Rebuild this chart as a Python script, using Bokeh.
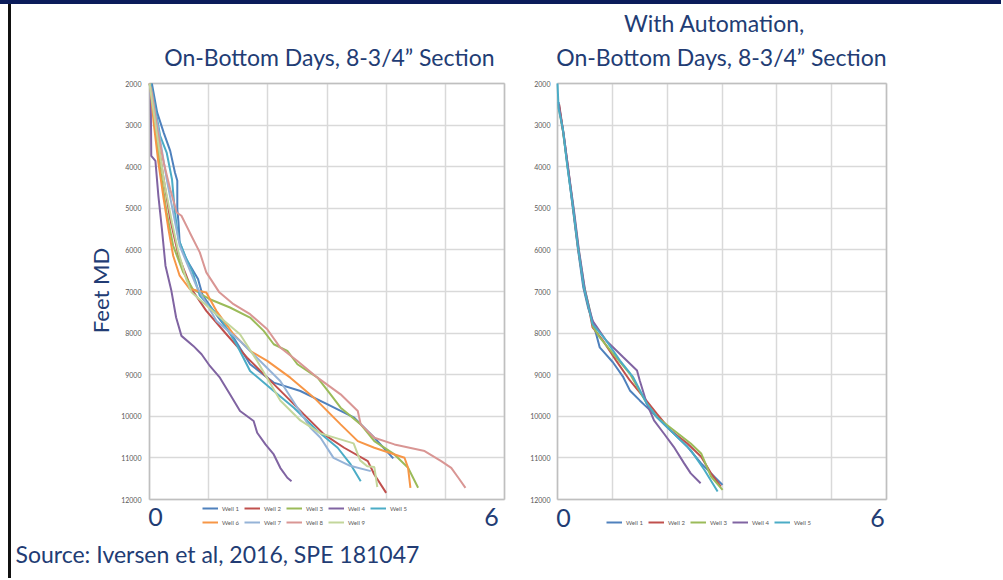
import math
from bokeh.plotting import figure
from bokeh.models import (Range1d, FixedTicker, Label, Legend, LegendItem, Grid, LinearAxis, Spacer)
from bokeh.layouts import row
from bokeh.embed import file_html
from bokeh.resources import INLINE

# ---------------- data ----------------
depth_ticks = [2000, 3000, 4000, 5000, 6000, 7000, 8000, 9000, 10000, 11000, 12000]
day_grid = [0, 1, 2, 3, 4, 5, 6]
box_days = [0, 6]
box_depth = [2000, 12000]

# Left chart: On-Bottom Days (without automation)
w1_days = [0.04, 0.13, 0.24, 0.35, 0.43, 0.47, 0.47, 0.49, 0.51, 0.62, 0.82, 0.90, 1.10, 1.42, 1.70, 2.10, 2.55, 3.01, 3.46, 3.80, 4.12]
w1_depth = [2000, 2700, 3180, 3620, 4140, 4340, 5020, 5340, 5820, 6220, 6700, 7100, 7500, 8107, 8749, 9191, 9392, 9713, 10034, 10515, 11010]

w2_days = [0.02, 0.13, 0.24, 0.35, 0.49, 0.60, 0.71, 0.96, 1.30, 1.65, 1.99, 2.33, 2.61, 2.95, 3.29, 3.69, 3.80, 4.00]
w2_depth = [2140, 3260, 4300, 5260, 6140, 6540, 6940, 7465, 8027, 8589, 9071, 9552, 9953, 10435, 10756, 11077, 11398, 11840]

w3_days = [0.02, 0.10, 0.18, 0.29, 0.40, 0.57, 0.73, 1.01, 1.36, 1.70, 1.93, 2.10, 2.33, 2.50, 2.84, 3.06, 3.23, 3.57, 3.80, 4.14, 4.37, 4.54]
w3_depth = [2000, 3100, 4060, 5100, 5900, 6540, 6940, 7180, 7385, 7626, 7947, 8268, 8428, 8749, 9071, 9472, 9793, 10194, 10596, 10917, 11238, 11719]

w4_days = [0.00, 0.02, 0.03, 0.10, 0.15, 0.21, 0.27, 0.37, 0.45, 0.54, 0.74, 0.88, 1.02, 1.19, 1.36, 1.53, 1.76, 1.82, 1.96, 2.10, 2.21, 2.33, 2.40]
w4_depth = [2000, 2060, 3740, 3860, 4700, 5500, 6380, 6984, 7626, 8067, 8308, 8509, 8790, 9071, 9472, 9873, 10114, 10395, 10676, 10917, 11238, 11478, 11559]

w5_days = [0.02, 0.10, 0.18, 0.29, 0.38, 0.43, 0.49, 0.60, 0.73, 0.85, 1.19, 1.47, 1.70, 2.10, 2.44, 2.84, 3.18, 3.40, 3.57]
w5_depth = [2000, 2620, 3260, 3660, 4300, 5100, 5740, 6140, 6540, 7100, 7626, 8268, 8910, 9392, 9793, 10355, 10756, 11157, 11559]

w6_days = [0.00, 0.02, 0.07, 0.15, 0.24, 0.32, 0.40, 0.51, 0.68, 0.96, 1.13, 1.42, 1.70, 1.99, 2.38, 2.78, 3.23, 3.52, 3.80, 4.31, 4.37, 4.41]
w6_depth = [2000, 2140, 2940, 3900, 4780, 5500, 6140, 6620, 6940, 7024, 7465, 8027, 8428, 8669, 9071, 9552, 10194, 10596, 10756, 10997, 11238, 11719]

w7_days = [0.00, 0.15, 0.29, 0.40, 0.51, 0.65, 0.79, 1.13, 1.53, 1.87, 2.21, 2.50, 2.72, 2.89, 3.11, 3.39, 3.74]
w7_depth = [2000, 3100, 4300, 5100, 5900, 6380, 6860, 7706, 8188, 8669, 9151, 9793, 10274, 10515, 11000, 11190, 11318]

w8_days = [0.00, 0.04, 0.13, 0.24, 0.35, 0.46, 0.54, 0.68, 0.85, 0.96, 1.18, 1.42, 1.70, 1.99, 2.21, 2.50, 2.84, 3.23, 3.52, 3.57, 3.80, 4.14, 4.65, 4.93, 5.10, 5.22, 5.34]
w8_depth = [2000, 2220, 3100, 3900, 4540, 5100, 5180, 5580, 6060, 6540, 7020, 7305, 7546, 7907, 8348, 8669, 9071, 9472, 9873, 10194, 10515, 10676, 10836, 11077, 11238, 11478, 11719]

w9_days = [0.00, 0.13, 0.24, 0.38, 0.49, 0.62, 0.71, 1.13, 1.53, 1.82, 2.21, 2.55, 2.89, 3.45, 3.56, 3.68, 3.80, 3.85]
w9_depth = [2000, 3260, 4300, 5340, 6060, 6700, 7020, 7546, 8027, 8669, 9620, 10100, 10410, 10650, 11060, 11200, 11220, 11700]

# Right chart: With Automation
a1_days = [0.02, 0.10, 0.19, 0.28, 0.37, 0.47, 0.56, 0.64, 0.77, 1.01, 1.20, 1.32, 1.50, 1.69, 1.87, 2.12, 2.37, 2.62, 2.86, 3.01]
a1_depth = [2450, 3150, 4050, 5000, 5950, 6900, 7400, 7705, 8343, 8701, 9060, 9378, 9618, 9857, 10096, 10414, 10733, 11131, 11450, 11649]

a2_days = [0.03, 0.11, 0.20, 0.29, 0.38, 0.49, 0.58, 0.64, 0.83, 1.07, 1.32, 1.57, 1.81, 2.06, 2.37, 2.62, 2.80, 2.98]
a2_depth = [2500, 3200, 4100, 5050, 6000, 6950, 7450, 7865, 8183, 8661, 9139, 9538, 9936, 10335, 10653, 10972, 11371, 11689]

a3_days = [0.02, 0.10, 0.19, 0.29, 0.38, 0.49, 0.58, 0.65, 0.77, 1.07, 1.32, 1.63, 1.81, 2.12, 2.43, 2.62, 2.80, 3.01]
a3_depth = [2550, 3150, 4050, 5000, 5950, 6900, 7400, 7850, 8104, 8582, 8980, 9697, 10016, 10335, 10653, 10892, 11450, 11769]

a4_days = [0.02, 0.11, 0.20, 0.30, 0.39, 0.50, 0.58, 0.64, 0.89, 1.20, 1.45, 1.50, 1.63, 1.76, 1.94, 2.12, 2.31, 2.43, 2.61]
a4_depth = [2500, 3200, 4100, 5050, 6000, 6950, 7400, 7705, 8183, 8582, 8900, 9139, 9697, 10096, 10414, 10733, 11131, 11371, 11610]

a5_days = [0.00, 0.02, 0.10, 0.18, 0.28, 0.37, 0.48, 0.57, 0.64, 0.89, 1.14, 1.38, 1.63, 1.81, 2.12, 2.43, 2.68, 2.92]
a5_depth = [2000, 2600, 3100, 4000, 4950, 5900, 6900, 7400, 7785, 8183, 8661, 9060, 9697, 10016, 10414, 10813, 11291, 11809]

left_names = ["Well 1", "Well 2", "Well 3", "Well 4", "Well 5", "Well 6", "Well 7", "Well 8", "Well 9"]
left_colors = ["#4F81BD", "#C0504D", "#9BBB59", "#8064A2", "#4BACC6", "#F79646", "#95B3D7", "#D99694", "#C3D69B"]
right_names = ["Well 1", "Well 2", "Well 3", "Well 4", "Well 5"]
right_colors = ["#4F81BD", "#C0504D", "#9BBB59", "#8064A2", "#4BACC6"]

left_title = "On-Bottom Days, 8-3/4\u201d Section"
right_title_1 = "With Automation,"
right_title_2 = "On-Bottom Days, 8-3/4\u201d Section"
y_label = "Feet MD"
source_text = "Source: Iversen et al, 2016, SPE 181047"

# ---------------- layout (page pixels) ----------------
NAVY = "#223C74"
FONT = "Lato"
BAR_H = 4
CANVAS_TOP = BAR_H
CANVAS_H = 574
L_X0, L_W = 11, 516
R_X0, R_W = 527, 474
L_BOX = (149, 504)
R_BOX = (557, 886)
Y_BOX = (83, 499)

HAS_CROSS = "cross_bounds" in Grid.properties()


class Mapper:
    def __init__(self, x0, box):
        self.x0 = x0
        self.box = box
        self.sx = (box[1] - box[0]) / (box_days[1] - box_days[0])
        self.sy = (Y_BOX[1] - Y_BOX[0]) / (box_depth[1] - box_depth[0])

    def dx(self, px):
        return box_days[0] + (px - self.box[0]) / self.sx

    def dy(self, py):
        return box_depth[0] + (py - Y_BOX[0]) / self.sy


def make_fig(x0, width, box):
    m = Mapper(x0, box)
    p = figure(width=width, height=CANVAS_H,
               x_range=Range1d(m.dx(x0), m.dx(x0 + width)),
               y_range=Range1d(m.dy(CANVAS_TOP + CANVAS_H), m.dy(CANVAS_TOP)),
               x_axis_type=None, y_axis_type=None,
               output_backend="svg", toolbar_location=None,
               min_border=0, min_border_left=0, min_border_right=0,
               min_border_top=0, min_border_bottom=0)
    p.outline_line_color = None
    p.background_fill_color = "white"
    p.border_fill_color = "white"

    def add_grid(xt, yt, color, width_):
        if HAS_CROSS:
            gx = Grid(dimension=0, ticker=FixedTicker(ticks=xt), bounds=(-0.5, 6.5),
                      cross_bounds=(box_depth[0], box_depth[1]),
                      grid_line_color=color, grid_line_width=width_)
            gy = Grid(dimension=1, ticker=FixedTicker(ticks=yt), bounds=(1500, 12500),
                      cross_bounds=(box_days[0], box_days[1]),
                      grid_line_color=color, grid_line_width=width_)
            p.add_layout(gx)
            p.add_layout(gy)
        else:
            p.segment(x0=xt, y0=[box_depth[0]] * len(xt), x1=xt, y1=[box_depth[1]] * len(xt),
                      line_color=color, line_width=width_)
            p.segment(x0=[box_days[0]] * len(yt), y0=yt, x1=[box_days[1]] * len(yt), y1=yt,
                      line_color=color, line_width=width_)

    add_grid(day_grid, depth_ticks, "#D9D9D9", 1.5)
    add_grid(box_days, box_depth, "#BFBFBF", 1.5)

    ax = LinearAxis(fixed_location=0, ticker=FixedTicker(ticks=depth_ticks), bounds=(2000, 12000))
    ax.axis_line_color = None
    ax.major_tick_line_color = None
    ax.minor_tick_line_color = None
    ax.major_tick_out = 0
    ax.major_tick_in = 0
    ax.major_label_text_font_size = "7px"
    ax.major_label_text_color = "#595959"
    ax.major_label_text_font = FONT
    p.add_layout(ax, "left")
    return p, m, ax


def text(p, m, px, py, s, size, align="center", angle=0.0):
    p.add_layout(Label(x=m.dx(px), y=m.dy(py), text=s, text_align=align, text_baseline="middle",
                       angle=angle, text_font=FONT, text_font_size=size, text_color=NAVY))


def add_legend(p, items, loc, ncols):
    lg = Legend(items=items, location=loc, orientation="horizontal", ncols=ncols,
                glyph_width=16, glyph_height=12, label_height=12, label_width=20,
                label_standoff=4, spacing=2, padding=0, margin=0,
                label_text_font_size="6px", label_text_color="#595959", label_text_font=FONT,
                background_fill_alpha=0, border_line_alpha=0)
    p.add_layout(lg)


# ---------------- left chart ----------------
left_x = [w1_days, w2_days, w3_days, w4_days, w5_days, w6_days, w7_days, w8_days, w9_days]
left_y = [w1_depth, w2_depth, w3_depth, w4_depth, w5_depth, w6_depth, w7_depth, w8_depth, w9_depth]

p1, m1, ax1 = make_fig(L_X0, L_W, L_BOX)
ax1.major_label_standoff = 8

items = []
for name, c, xs, ys in zip(left_names, left_colors, left_x, left_y):
    r = p1.line(xs, ys, line_color=c, line_width=2)
    items.append(LegendItem(label=name, renderers=[r]))
add_legend(p1, items, (202 - L_X0, (CANVAS_TOP + CANVAS_H) - 528), 5)

text(p1, m1, 329, 56, left_title, "23px")
text(p1, m1, 100, 290, y_label, "22px", angle=math.pi / 2)
text(p1, m1, 155, 516, "0", "25px")
text(p1, m1, 491, 516, "6", "25px")
text(p1, m1, 15, 553, source_text, "23px", align="left")

# ---------------- right chart ----------------
right_x = [a1_days, a2_days, a3_days, a4_days, a5_days]
right_y = [a1_depth, a2_depth, a3_depth, a4_depth, a5_depth]

p2, m2, ax2 = make_fig(R_X0, R_W, R_BOX)
ax2.major_label_standoff = 7

items2 = []
for name, c, xs, ys in zip(right_names, right_colors, right_x, right_y):
    r = p2.line(xs, ys, line_color=c, line_width=2)
    items2.append(LegendItem(label=name, renderers=[r]))
add_legend(p2, items2, (606 - R_X0, (CANVAS_TOP + CANVAS_H) - 528), 5)

text(p2, m2, 714, 22, right_title_1, "23px")
text(p2, m2, 721, 56, right_title_2, "23px")
text(p2, m2, 563, 517, "0", "25px")
text(p2, m2, 877, 517, "6", "25px")

gap = Spacer(width=8, height=CANVAS_H)
vline = Spacer(width=3, height=CANVAS_H, styles={"background-color": "#111111"})
layout = row(gap, vline, p1, p2, styles={"border-top": "%dpx solid #0B1C5A" % BAR_H})

open("out.html", "w").write(file_html(layout, INLINE))
